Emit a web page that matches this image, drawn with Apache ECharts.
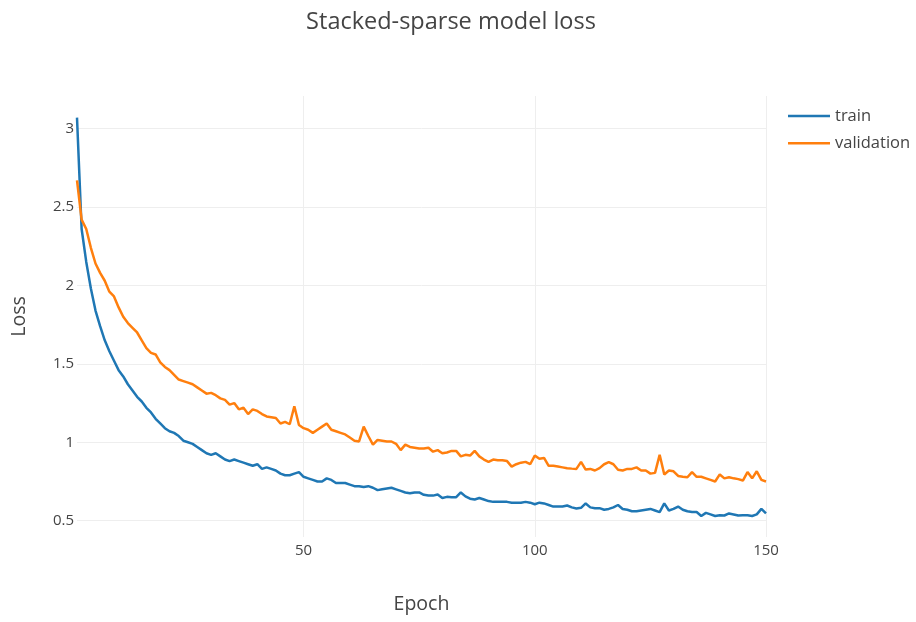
<!DOCTYPE html>
<html>
<head>
<meta charset="utf-8">
<script src="https://cdn.jsdelivr.net/npm/echarts@6/dist/echarts.min.js"></script>
<style>
html,body{margin:0;padding:0;background:#fff;}
#chart{width:916px;height:622px;}
</style>
</head>
<body>
<div id="chart"></div>
<script>
const titleText = 'Stacked-sparse model loss';
const xAxisTitle = 'Epoch';
const yAxisTitle = 'Loss';
const seriesNames = ['train', 'validation'];
const xTicks = [50, 100, 150];
const yTicks = [0.5, 1, 1.5, 2, 2.5, 3];

const train = [
  3.07, 2.36, 2.15, 1.98, 1.84, 1.74, 1.65, 1.58, 1.52, 1.46,
  1.42, 1.37, 1.33, 1.29, 1.26, 1.22, 1.19, 1.15, 1.12, 1.09,
  1.07, 1.06, 1.04, 1.01, 1.00, 0.99, 0.97, 0.95, 0.93, 0.92,
  0.93, 0.91, 0.89, 0.88, 0.89, 0.88, 0.87, 0.86, 0.85, 0.86,
  0.83, 0.84, 0.83, 0.82, 0.80, 0.79, 0.79, 0.80, 0.81, 0.78,
  0.77, 0.76, 0.75, 0.75, 0.77, 0.76, 0.74, 0.74, 0.74, 0.73,
  0.72, 0.72, 0.715, 0.72, 0.71, 0.695, 0.70, 0.705, 0.71, 0.70,
  0.69, 0.68, 0.675, 0.68, 0.68, 0.665, 0.66, 0.66, 0.667, 0.645,
  0.652, 0.65, 0.65, 0.68, 0.655, 0.64, 0.635, 0.645, 0.635, 0.625,
  0.62, 0.62, 0.62, 0.62, 0.615, 0.615, 0.615, 0.62, 0.615, 0.605,
  0.615, 0.61, 0.60, 0.59, 0.59, 0.59, 0.597, 0.585, 0.578, 0.582,
  0.61, 0.585, 0.58, 0.58, 0.57, 0.575, 0.585, 0.60, 0.575, 0.57,
  0.56, 0.56, 0.565, 0.57, 0.575, 0.565, 0.555, 0.61, 0.565, 0.575,
  0.59, 0.57, 0.56, 0.555, 0.555, 0.53, 0.55, 0.54, 0.53, 0.535,
  0.533, 0.546, 0.54, 0.533, 0.535, 0.535, 0.53, 0.54, 0.575, 0.546
];

const validation = [
  2.67, 2.42, 2.36, 2.24, 2.14, 2.08, 2.03, 1.96, 1.93, 1.86,
  1.80, 1.76, 1.73, 1.70, 1.65, 1.60, 1.57, 1.56, 1.51, 1.48,
  1.46, 1.43, 1.40, 1.39, 1.38, 1.37, 1.35, 1.33, 1.31, 1.315,
  1.30, 1.28, 1.27, 1.24, 1.25, 1.21, 1.22, 1.18, 1.21, 1.20,
  1.18, 1.165, 1.16, 1.155, 1.12, 1.13, 1.115, 1.23, 1.11, 1.09,
  1.08, 1.06, 1.08, 1.10, 1.12, 1.08, 1.07, 1.06, 1.05, 1.03,
  1.01, 1.005, 1.10, 1.04, 0.985, 1.015, 1.01, 1.005, 1.005, 0.99,
  0.95, 0.985, 0.97, 0.965, 0.96, 0.96, 0.965, 0.94, 0.95, 0.93,
  0.935, 0.945, 0.945, 0.91, 0.92, 0.915, 0.945, 0.91, 0.89, 0.875,
  0.89, 0.885, 0.885, 0.88, 0.845, 0.86, 0.87, 0.875, 0.86, 0.915,
  0.895, 0.90, 0.85, 0.85, 0.845, 0.84, 0.835, 0.832, 0.83, 0.875,
  0.826, 0.83, 0.82, 0.835, 0.86, 0.873, 0.86, 0.825, 0.82, 0.83,
  0.83, 0.84, 0.82, 0.82, 0.80, 0.805, 0.92, 0.795, 0.82, 0.815,
  0.785, 0.78, 0.777, 0.81, 0.78, 0.78, 0.77, 0.76, 0.75, 0.795,
  0.77, 0.777, 0.77, 0.765, 0.756, 0.81, 0.77, 0.815, 0.76, 0.75
];

const epochs = train.map((_, i) => i + 1);

const FONT = '"Open Sans", "Noto Sans", sans-serif';
const chart = echarts.init(document.getElementById('chart'), null, {renderer: 'canvas'});
chart.setOption({
  backgroundColor: '#fff',
  animation: false,
  title: {
    text: titleText,
    left: 446,
    textAlign: 'center',
    top: 5,
    textStyle: {fontFamily: FONT, fontSize: 23.5, fontWeight: 'normal', color: '#444'}
  },
  legend: {
    orient: 'vertical',
    left: 788,
    top: 106,
    padding: 0,
    icon: 'rect',
    itemWidth: 42,
    itemHeight: 2.5,
    itemGap: 7.2,
    data: seriesNames,
    textStyle: {fontFamily: FONT, fontSize: 16.5, lineHeight: 20, color: '#444'}
  },
  grid: {left: 77, right: 150, top: 96, bottom: 85, containLabel: false},
  xAxis: {
    type: 'value',
    min: 1,
    max: 150,
    name: xAxisTitle,
    nameLocation: 'middle',
    nameGap: 57,
    nameTextStyle: {fontFamily: FONT, fontSize: 19.5, color: '#444'},
    axisLine: {show: false},
    axisTick: {show: false, customValues: xTicks},
    axisLabel: {customValues: xTicks, margin: 6, fontFamily: FONT, fontSize: 15, color: '#444'},
    splitLine: {show: true, customValues: xTicks, lineStyle: {color: '#eee', width: 1}}
  },
  yAxis: {
    type: 'value',
    min: 0.396,
    max: 3.208,
    name: yAxisTitle,
    nameLocation: 'middle',
    nameGap: 48,
    nameTextStyle: {fontFamily: FONT, fontSize: 19.5, color: '#444'},
    axisLine: {show: false},
    axisTick: {show: false, customValues: yTicks},
    axisLabel: {customValues: yTicks, margin: 3, fontFamily: FONT, fontSize: 15, color: '#444'},
    splitLine: {show: true, customValues: yTicks, lineStyle: {color: '#eee', width: 1}}
  },
  series: [
    {
      name: seriesNames[0],
      type: 'line',
      data: epochs.map((e, i) => [e, train[i]]),
      symbol: 'none',
      lineStyle: {color: '#1f77b4', width: 2.5},
      itemStyle: {color: '#1f77b4'}
    },
    {
      name: seriesNames[1],
      type: 'line',
      data: epochs.map((e, i) => [e, validation[i]]),
      symbol: 'none',
      lineStyle: {color: '#ff7f0e', width: 2.5},
      itemStyle: {color: '#ff7f0e'}
    }
  ]
});
</script>
</body>
</html>
